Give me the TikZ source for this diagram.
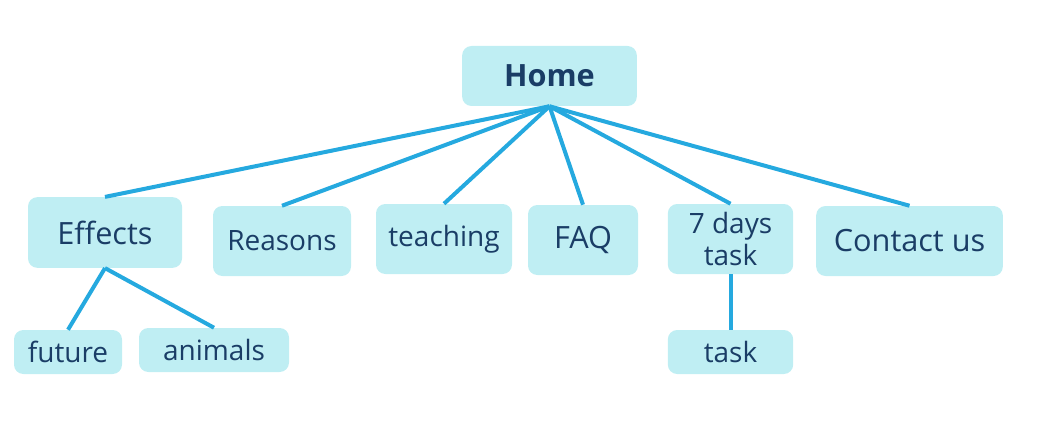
\documentclass[tikz,border=0pt]{standalone}
\usepackage{fontspec}
\setmainfont{Open Sans}
\definecolor{boxfill}{HTML}{BFEEF3}
\definecolor{boxtext}{HTML}{1A3D66}
\definecolor{linkblue}{HTML}{25A9DF}
\begin{document}
\begin{tikzpicture}[x=0.75pt,y=-0.75pt,
    box/.style={fill=boxfill, text=boxtext, rounded corners=7pt, inner sep=0pt,
        font=\fontsize{21}{24}\selectfont, align=center, minimum height=52.5pt},
    bigbox/.style={box, font=\fontsize{23}{26}\selectfont},
    leaf/.style={box, minimum height=33pt},
    link/.style={linkblue, line width=3pt}]
    \useasboundingbox (0,0) rectangle (1062,442);

    \node[bigbox, font=\fontsize{23}{26}\selectfont\bfseries, minimum width=131pt, minimum height=45pt] (home) at (549.5,76) {Home};

    \node[bigbox, minimum width=115.5pt, minimum height=53pt] (effects) at (105,232.5) {Effects};
    \node[box, minimum width=103.5pt] (reasons) at (282,241) {Reasons};
    \node[box, minimum width=102pt] (teaching) at (444,239) {teaching};
    \node[bigbox, minimum width=82.5pt] (faq) at (583,240) {FAQ};
    \node[box, minimum width=94pt] (days) at (730.5,239) {7 days\\task};
    \node[bigbox, minimum width=140pt] (contact) at (909.5,241) {Contact us};

    \node[leaf, minimum width=81pt] (future) at (68,352) {future};
    \node[leaf, minimum width=112.5pt] (animals) at (214,350) {animals};
    \node[leaf, minimum width=94pt] (task) at (730.5,352) {task};

    \foreach \n in {effects,reasons,teaching,faq,days,contact}
        \draw[link] (home.south) -- (\n.north);
    \draw[link] (effects.south) -- (future.north);
    \draw[link] (effects.south) -- (animals.north);
    \draw[link] (days.south) -- (task.north);
\end{tikzpicture}
\end{document}
